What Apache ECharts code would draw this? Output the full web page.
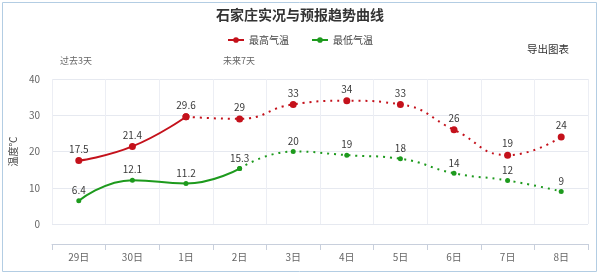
<!DOCTYPE html>
<html><head><meta charset="utf-8">
<script src="https://cdn.jsdelivr.net/npm/echarts@6/dist/echarts.min.js"></script>
<style>html,body{margin:0;padding:0;background:#fff}#c{width:600px;height:275px}</style>
</head><body><div id="c"></div>
<script>
const categories = ['29日','30日','1日','2日','3日','4日','5日','6日','7日','8日'];
const maxObserved = [17.5, 21.4, 29.6, null, null, null, null, null, null, null];
const maxForecast = [null, null, 29.6, 29, 33, 34, 33, 26, 19, 24];
const minObserved = [6.4, 12.1, 11.2, 15.3, null, null, null, null, null, null];
const minForecast = [null, null, null, 15.3, 20, 19, 18, 14, 12, 9];
const yTicks = [0, 10, 20, 30, 40];

const RED = '#c4111b', GREEN = '#1d9a1d';
const FONT = '"Noto Sans CJK SC", "Noto Sans", sans-serif';

function toData(arr, hideIdx) {
  return arr.map((v, i) => v === null ? '-' : (i === hideIdx ? {value: v, label: {show: false}} : v));
}
const lbl = {show: true, position: 'top', color: '#3a3a3a', fontSize: 10, fontFamily: FONT, distance: 3};

const chart = echarts.init(document.getElementById('c'));
chart.setOption({
  animation: false,
  textStyle: {fontFamily: FONT},
  title: {text: '石家庄实况与预报趋势曲线', left: 'center', top: 3,
    textStyle: {fontSize: 14, fontWeight: 'bold', color: '#333', fontFamily: FONT}},
  legend: {top: 30, left: 'center', itemWidth: 16, itemHeight: 7, itemGap: 22,
    data: ['最高气温', '最低气温'], textStyle: {fontSize: 10, color: '#444', fontFamily: FONT}},
  graphic: [
    {type: 'rect', shape: {x: 2.5, y: 2.5, width: 594, height: 269}, style: {fill: 'none', stroke: '#b3cde3', lineWidth: 1}, silent: true},
    {type: 'text', left: 527, top: 44, style: {text: '导出图表', fill: '#333', font: '10.5px ' + FONT}},
    {type: 'text', left: 60, top: 56, style: {text: '过去3天', fill: '#666', font: '9px ' + FONT}},
    {type: 'text', left: 223, top: 56, style: {text: '未来7天', fill: '#666', font: '9px ' + FONT}}
  ],
  grid: {left: 45, right: 12, top: 79, bottom: 51},
  xAxis: {type: 'category', data: categories, boundaryGap: true, offset: 20,
    axisLine: {show: true, onZero: false, lineStyle: {color: '#c8cfdc', width: 1}},
    axisTick: {show: true, length: 6, lineStyle: {color: '#c8cfdc'}},
    axisLabel: {color: '#666', fontSize: 10, margin: 8},
    splitLine: {show: true, lineStyle: {color: '#eceef4'}}},
  yAxis: {type: 'value', min: yTicks[0], max: yTicks[yTicks.length - 1], interval: 10,
    name: '温度℃', nameLocation: 'middle', nameGap: 25, nameRotate: 90,
    nameTextStyle: {color: '#444', fontSize: 10},
    axisLine: {show: false}, axisTick: {show: false},
    axisLabel: {color: '#666', fontSize: 10, margin: 12},
    splitLine: {show: true, lineStyle: {color: '#e6e9f0'}}},
  series: [
    {name: '最高气温', type: 'line', smooth: true, data: toData(maxObserved), symbol: 'circle', symbolSize: 7,
      itemStyle: {color: RED}, lineStyle: {color: RED, width: 2}, label: lbl, z: 3},
    {name: '最高气温', type: 'line', smooth: true, data: toData(maxForecast, 2), symbol: 'circle', symbolSize: 7,
      itemStyle: {color: RED}, lineStyle: {color: RED, width: 2, type: [2, 5]}, label: lbl, z: 2},
    {name: '最低气温', type: 'line', smooth: true, data: toData(minObserved), symbol: 'circle', symbolSize: 5,
      itemStyle: {color: GREEN}, lineStyle: {color: GREEN, width: 2}, label: lbl, z: 3},
    {name: '最低气温', type: 'line', smooth: true, data: toData(minForecast, 3), symbol: 'circle', symbolSize: 5,
      itemStyle: {color: GREEN}, lineStyle: {color: GREEN, width: 2, type: [2, 5]}, label: lbl, z: 2}
  ]
});
</script></body></html>
